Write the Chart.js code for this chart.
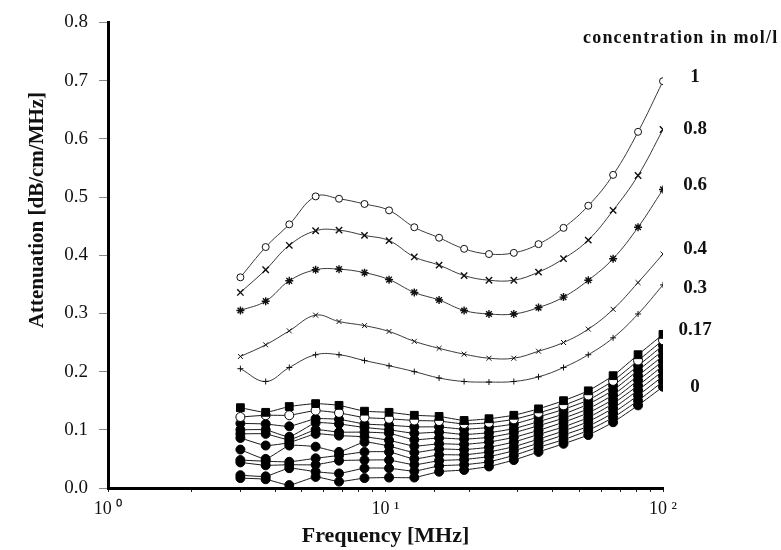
<!DOCTYPE html>
<html>
<head>
<meta charset="utf-8">
<script src="https://cdn.jsdelivr.net/npm/chart.js@4.4.1/dist/chart.umd.min.js"></script>
<style>
html,body{margin:0;padding:0;background:#fff;}
canvas{display:block;}
</style>
</head>
<body>
<canvas id="c" width="781" height="550"></canvas>
<script>
// Measurement frequencies in MHz
const frequencies = [3.0, 3.7, 4.5, 5.6, 6.8, 8.4, 10.3, 12.7, 15.6, 19.2, 23.6, 29.0, 35.6, 43.8, 53.8, 66.1, 81.3, 100];

// Attenuation (dB/cm/MHz) for the higher concentrations
const conc1   = [0.362, 0.414, 0.453, 0.501, 0.497, 0.488, 0.477, 0.448, 0.430, 0.411, 0.402, 0.404, 0.419, 0.447, 0.485, 0.538, 0.612, 0.699];
const conc08  = [0.336, 0.375, 0.417, 0.442, 0.443, 0.434, 0.425, 0.397, 0.383, 0.365, 0.357, 0.357, 0.371, 0.394, 0.426, 0.477, 0.537, 0.616];
const conc06  = [0.305, 0.321, 0.356, 0.375, 0.376, 0.370, 0.358, 0.336, 0.323, 0.305, 0.299, 0.299, 0.310, 0.328, 0.357, 0.394, 0.448, 0.513];
const conc04  = [0.226, 0.246, 0.270, 0.297, 0.286, 0.279, 0.269, 0.252, 0.240, 0.230, 0.223, 0.223, 0.235, 0.250, 0.273, 0.307, 0.353, 0.402];
const conc03  = [0.205, 0.183, 0.207, 0.229, 0.229, 0.219, 0.210, 0.200, 0.189, 0.183, 0.182, 0.183, 0.191, 0.207, 0.229, 0.258, 0.299, 0.349];

// Low concentrations, from 0.17 mol/l (top) down to 0 mol/l (bottom)
const low01 = [0.138, 0.130, 0.140, 0.145, 0.142, 0.132, 0.130, 0.125, 0.123, 0.116, 0.119, 0.125, 0.136, 0.150, 0.167, 0.193, 0.229, 0.264];
const low02 = [0.122, 0.125, 0.125, 0.133, 0.129, 0.121, 0.119, 0.116, 0.115, 0.110, 0.112, 0.118, 0.129, 0.142, 0.159, 0.184, 0.219, 0.254];
const low03 = [0.111, 0.110, 0.106, 0.119, 0.118, 0.110, 0.108, 0.105, 0.105, 0.101, 0.104, 0.110, 0.122, 0.135, 0.151, 0.176, 0.210, 0.245];
const low04 = [0.100, 0.100, 0.088, 0.112, 0.110, 0.104, 0.100, 0.094, 0.096, 0.092, 0.095, 0.102, 0.114, 0.127, 0.144, 0.168, 0.202, 0.236];
const low05 = [0.093, 0.093, 0.083, 0.100, 0.096, 0.096, 0.094, 0.083, 0.086, 0.084, 0.087, 0.095, 0.107, 0.120, 0.136, 0.160, 0.193, 0.227];
const low06 = [0.086, 0.073, 0.078, 0.093, 0.090, 0.088, 0.082, 0.072, 0.076, 0.075, 0.079, 0.087, 0.099, 0.113, 0.129, 0.152, 0.185, 0.218];
const low07 = [0.066, 0.050, 0.073, 0.071, 0.062, 0.079, 0.072, 0.061, 0.067, 0.066, 0.070, 0.079, 0.092, 0.105, 0.121, 0.145, 0.176, 0.210];
const low08 = [0.048, 0.046, 0.045, 0.051, 0.056, 0.062, 0.062, 0.050, 0.057, 0.057, 0.062, 0.071, 0.084, 0.098, 0.114, 0.137, 0.168, 0.201];
const low09 = [0.044, 0.039, 0.040, 0.040, 0.047, 0.048, 0.048, 0.040, 0.047, 0.049, 0.054, 0.064, 0.077, 0.091, 0.106, 0.129, 0.159, 0.192];
const low10 = [0.022, 0.020, 0.034, 0.028, 0.025, 0.034, 0.034, 0.029, 0.038, 0.040, 0.045, 0.056, 0.070, 0.083, 0.099, 0.121, 0.150, 0.183];
const low11 = [0.017, 0.015, 0.005, 0.019, 0.011, 0.017, 0.018, 0.018, 0.028, 0.031, 0.037, 0.048, 0.062, 0.076, 0.091, 0.113, 0.142, 0.174];

// Concentration labels at the right end of the curves, and their heights in axis units
const concLabels = ['1', '0.8', '0.6', '0.4', '0.3', '0.17', '0'];
const concLabelY = [0.706, 0.617, 0.520, 0.410, 0.344, 0.272, 0.174];

// x tick labels (powers of ten)
const xTickLabels = {1: '10 \u2070', 10: '10 \u00b9', 100: '10 \u00b2'};

const SERIF = '"Liberation Serif", "Times New Roman", serif';
const toPoints = vals => vals.map((v, i) => ({x: frequencies[i], y: v}));

function upper(label, vals, style, radius, width, fill) {
  return {
    label, data: toPoints(vals),
    borderColor: '#3a3a3a', borderWidth: 1, tension: 0.4,
    pointStyle: style, pointRadius: radius, pointBorderWidth: width,
    pointBorderColor: '#111', pointBackgroundColor: fill || '#111'
  };
}
function lower(label, vals, style, radius, fill) {
  return {
    label, data: toPoints(vals),
    borderColor: '#1a1a1a', borderWidth: 1, tension: 0.15,
    pointStyle: style, pointRadius: radius, pointBorderWidth: 1,
    pointBorderColor: '#000', pointBackgroundColor: fill
  };
}

const datasets = [
  upper('1 mol/l', conc1, 'circle', 3.5, 1, '#fff'),
  upper('0.8 mol/l', conc08, 'crossRot', 4.5, 1.4),
  upper('0.6 mol/l', conc06, 'star', 4, 1.4),
  upper('0.4 mol/l', conc04, 'crossRot', 3.5, 1),
  upper('0.3 mol/l', conc03, 'cross', 3, 1),
  lower('0.17 mol/l', low01, 'rect', 5.5, '#000'),
  lower('low02', low02, 'circle', 4.5, '#fff'),
  lower('low03', low03, 'circle', 4.5, '#000'),
  lower('low04', low04, 'circle', 4.5, '#000'),
  lower('low05', low05, 'circle', 4.5, '#000'),
  lower('low06', low06, 'circle', 4.5, '#000'),
  lower('low07', low07, 'circle', 4.5, '#000'),
  lower('low08', low08, 'circle', 4.5, '#000'),
  lower('low09', low09, 'circle', 4.5, '#000'),
  lower('low10', low10, 'circle', 4.5, '#000'),
  lower('0 mol/l', low11, 'circle', 4.5, '#000')
];

// Concentration labels, header and the vertical axis title
const annotate = {
  id: 'annotate',
  afterDraw(chart) {
    const {ctx, scales: {x, y}} = chart;
    ctx.save();
    ctx.fillStyle = '#111';
    ctx.textBaseline = 'middle';
    ctx.textAlign = 'center';
    ctx.font = 'bold 19px ' + SERIF;
    const lx = x.getPixelForValue(100) + 32;
    concLabels.forEach((t, i) => ctx.fillText(t, lx, y.getPixelForValue(concLabelY[i])));
    ctx.textAlign = 'left';
    ctx.font = 'bold 18px ' + SERIF;
    ctx.letterSpacing = '1.2px';
    ctx.fillText('concentration in mol/l', 583, 38);
    ctx.letterSpacing = '0px';
    ctx.translate(38, 210);
    ctx.rotate(-Math.PI / 2);
    ctx.textAlign = 'center';
    ctx.font = 'bold 21px ' + SERIF;
    ctx.fillText('Attenuation [dB/cm/MHz]', 0, 0);
    ctx.restore();
  }
};

new Chart(document.getElementById('c'), {
  type: 'line',
  data: {datasets},
  options: {
    responsive: false,
    animation: false,
    layout: {padding: {top: 20, right: 118, left: 0, bottom: 0}},
    plugins: {legend: {display: false}, tooltip: {enabled: false}},
    scales: {
      x: {
        type: 'logarithmic', min: 1, max: 100,
        afterFit(s) { s.height = 62; },
        border: {color: '#000', width: 3},
        grid: {drawOnChartArea: false, drawTicks: true, tickLength: 4, color: '#222'},
        ticks: {
          autoSkip: false, maxRotation: 0, padding: 6, color: '#111',
          font: {family: SERIF, size: 18},
          callback: v => xTickLabels[v] || ''
        },
        title: {display: true, text: 'Frequency [MHz]', color: '#111',
                font: {family: SERIF, size: 22, weight: 'bold'}, padding: {top: 0, bottom: 0}}
      },
      y: {
        min: 0, max: 0.8,
        afterFit(s) { s.width = 108; },
        border: {color: '#000', width: 3},
        grid: {drawOnChartArea: false, drawTicks: true, tickLength: 9, color: '#888'},
        ticks: {stepSize: 0.1, padding: 11, color: '#111',
                font: {family: SERIF, size: 19},
                callback: v => v.toFixed(1)}
      }
    }
  },
  plugins: [annotate]
});
</script>
</body>
</html>
